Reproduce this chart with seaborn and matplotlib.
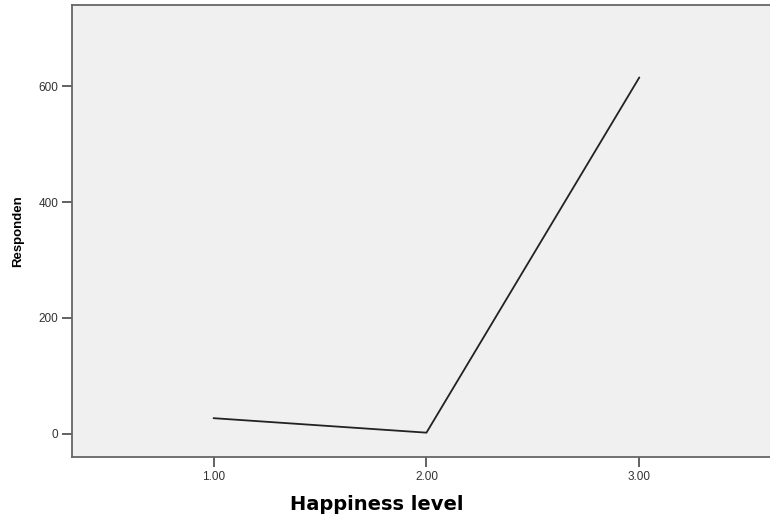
import pandas as pd
import matplotlib
matplotlib.use("Agg")
import matplotlib.pyplot as plt
import seaborn as sns

# values
happiness = [1.0, 2.0, 3.0]
respondents = [27, 2, 615]
x_ticks = [1.0, 2.0, 3.0]
x_ticklabels = ["1.00", "2.00", "3.00"]
y_ticks = [0, 200, 400, 600]

df = pd.DataFrame({"Happiness level": happiness, "Responden": respondents})

sns.set_style("white")
plt.rcParams["font.family"] = ["Liberation Sans", "DejaVu Sans"]

fig = plt.figure(figsize=(7.7, 5.22), dpi=100)
ax = fig.add_axes([72 / 770, 1 - 457 / 522, 1 - 72 / 770 + 0.01, (457 - 5) / 522])
ax.set_facecolor("#f0f0f0")

sns.lineplot(data=df, x="Happiness level", y="Responden", ax=ax,
             color="#222222", linewidth=1.3)

ax.set_xlim(0.335, 3.65)
ax.set_ylim(-40, 740)
ax.set_xticks(x_ticks)
ax.set_xticklabels(x_ticklabels)
ax.set_yticks(y_ticks)

for side in ["left", "bottom", "top", "right"]:
    ax.spines[side].set_color("#666666")
    ax.spines[side].set_linewidth(1.3)
ax.tick_params(axis="both", length=7, width=1.3, color="#555555",
               labelsize=8.5, labelcolor="#333333", pad=3,
               left=True, bottom=True)

ax.set_xlabel("")
ax.set_ylabel("Responden", fontsize=9.5, fontweight="bold", color="black",
              labelpad=10)
fig.text(377 / 770, 1 - 505 / 522, "Happiness level", fontsize=14,
         fontweight="bold", ha="center", va="center", color="black",
         family=["DejaVu Sans"])

fig.savefig("out.png", dpi=100)
